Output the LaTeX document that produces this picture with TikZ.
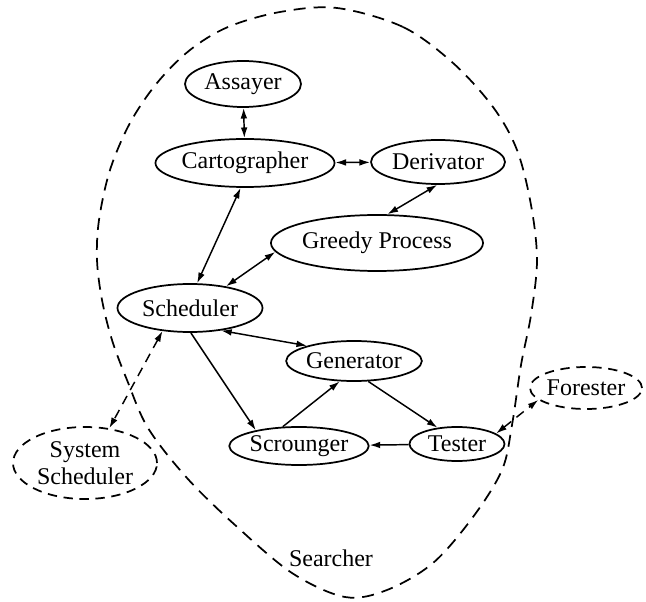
\documentclass[tikz,border=0pt]{standalone}
\usepackage{fontspec}
\setmainfont{Liberation Serif}
\usetikzlibrary{shapes.geometric,arrows.meta}

\tikzset{every picture/.style={line width=0.75pt}}
\tikzset{
  proc/.style={draw, ellipse, line width=1.3pt, inner sep=0pt, font=\fontsize{18}{20}\selectfont},
  outproc/.style={proc, dash pattern=on 7pt off 5pt},
  link/.style={line width=1.1pt, {Latex[length=8pt,width=5pt]}-{Latex[length=8pt,width=5pt]}},
  onelink/.style={line width=1.1pt, -{Latex[length=8pt,width=5pt]}},
  outlink/.style={link, dash pattern=on 7pt off 5pt}
}

\begin{document}
\begin{tikzpicture}[x=0.75pt,y=0.75pt,yscale=-1,xscale=1]
\path[use as bounding box] (0,0) rectangle (646,602);

%Closed Curve [Searcher]
\draw [line width=1.3pt, dash pattern=on 9pt off 6pt] plot [smooth cycle, tension=0.55] coordinates {
  (337,8) (403,27) (453,63) (493,107) (517,150) (531,205) (537,260) (531,315)
  (521,365) (512,425) (502,470) (473,517) (433,563) (387,590) (345,597)
  (292,573) (235,525) (187,478) (148,428) (127,380) (112,340) (102,300) (97,260)
  (99,220) (110,170) (130,123) (157,83) (190,50) (228,27) (280,12)};
\node (searcher) at (331,558) {\fontsize{18}{20}\selectfont Searcher};

%Ellipses
\node [proc, minimum width=87pt, minimum height=34.5pt] (assayer) at (243,84) {Assayer};
\node [proc, minimum width=114pt, minimum height=36pt] (carto) at (245,163) {Cartographer};
\node [proc, minimum width=100.5pt, minimum height=33pt] (deriv) at (438,162) {Derivator};
\node [proc, minimum width=130.5pt, minimum height=42pt] (greedy) at (377,243) {Greedy Process};
\node [proc, minimum width=108.75pt, minimum height=36pt] (sched) at (190,308) {Scheduler};
\node [proc, minimum width=100.5pt, minimum height=30pt] (gen) at (354,361) {Generator};
\node [proc, minimum width=94.5pt, minimum height=28.5pt] (scroung) at (299,446) {Scrounger};
\node [proc, minimum width=71.25pt, minimum height=25.5pt] (tester) at (457,444) {Tester};
%Outside processes
\node [outproc, minimum width=108pt, minimum height=54pt, align=center] (syssched) at (85,463) {System\\Scheduler};
\node [outproc, minimum width=84pt, minimum height=31.5pt] (forester) at (586,388) {Forester};

%Connectors
\draw [link] (assayer) -- (carto);
\draw [link] (carto) -- (deriv);
\draw [link] (deriv.-92) -- (greedy.70);
\draw [link] (carto.-100) -- (sched.74);
\draw [link] (greedy.185) -- (sched.31);
\draw [link] (sched.-36) -- (gen.162);
\draw [onelink] (sched.-88) -- (scroung.160);
\draw [onelink] (scroung.130) -- (gen.-125);
\draw [onelink] (gen.-55) -- (tester.140);
\draw [onelink] (tester) -- (scroung);
\draw [outlink] (sched.-140) -- (syssched.55);
\draw [outlink] (tester.15) -- (forester.194);

\end{tikzpicture}
\end{document}
